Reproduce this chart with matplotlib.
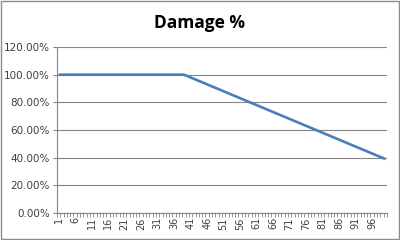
import matplotlib.pyplot as plt
from matplotlib.patches import Rectangle
from matplotlib.ticker import FuncFormatter

# categorias 1..100
levels = list(range(1, 101))
damage = [1.00, 1.00, 1.00, 1.00, 1.00, 1.00, 1.00, 1.00, 1.00, 1.00,
          1.00, 1.00, 1.00, 1.00, 1.00, 1.00, 1.00, 1.00, 1.00, 1.00,
          1.00, 1.00, 1.00, 1.00, 1.00, 1.00, 1.00, 1.00, 1.00, 1.00,
          1.00, 1.00, 1.00, 1.00, 1.00, 1.00, 1.00, 1.00, 1.00, 0.99,
          0.98, 0.97, 0.96, 0.95, 0.94, 0.93, 0.92, 0.91, 0.90, 0.89,
          0.88, 0.87, 0.86, 0.85, 0.84, 0.83, 0.82, 0.81, 0.80, 0.79,
          0.78, 0.77, 0.76, 0.75, 0.74, 0.73, 0.72, 0.71, 0.70, 0.69,
          0.68, 0.67, 0.66, 0.65, 0.64, 0.63, 0.62, 0.61, 0.60, 0.59,
          0.58, 0.57, 0.56, 0.55, 0.54, 0.53, 0.52, 0.51, 0.50, 0.49,
          0.48, 0.47, 0.46, 0.45, 0.44, 0.43, 0.42, 0.41, 0.40, 0.39]
y_ticks = [0, 0.2, 0.4, 0.6, 0.8, 1.0, 1.2]

fig = plt.figure(figsize=(4, 2.4), dpi=100)
fig.patches.append(Rectangle((0.002, 0.004), 0.995, 0.992, transform=fig.transFigure,
                             fill=False, edgecolor='#8c8c8c', linewidth=1))
ax = fig.add_axes([0.1425, 0.1125, 0.825, 0.6915])

pos = list(range(len(levels)))
ax.plot(pos, damage, color='#4a7ebb', linewidth=1.9, solid_capstyle='butt')

ax.set_xlim(-0.5, len(levels) - 0.5)
ax.set_ylim(0, 1.2)
ax.set_yticks(y_ticks)
ax.yaxis.set_major_formatter(FuncFormatter(lambda v, p: '%.2f%%' % (v * 100)))
ax.grid(axis='y', color='#868686', linewidth=0.8)
ax.set_axisbelow(True)

ax.set_xticks(pos[::5])
ax.set_xticklabels([str(l) for l in levels[::5]], rotation=90)
ax.set_xticks([p - 0.5 for p in pos] + [len(levels) - 0.5], minor=True)
ax.tick_params(axis='x', which='major', length=0, labelsize=7, colors='#404040', pad=3)
ax.tick_params(axis='x', which='minor', length=3, color='#868686', width=0.6)
ax.tick_params(axis='y', length=3, color='#868686', labelsize=7.5, labelcolor='#404040', pad=2)

for s in ['top', 'right']:
    ax.spines[s].set_visible(False)
for s in ['left', 'bottom']:
    ax.spines[s].set_color('#868686')
    ax.spines[s].set_linewidth(0.8)

fig.text(0.5, 0.905, 'Damage %', ha='center', va='center', fontsize=12.5, fontweight='bold',
         family='Open Sans')

fig.savefig('out.png', dpi=100)
